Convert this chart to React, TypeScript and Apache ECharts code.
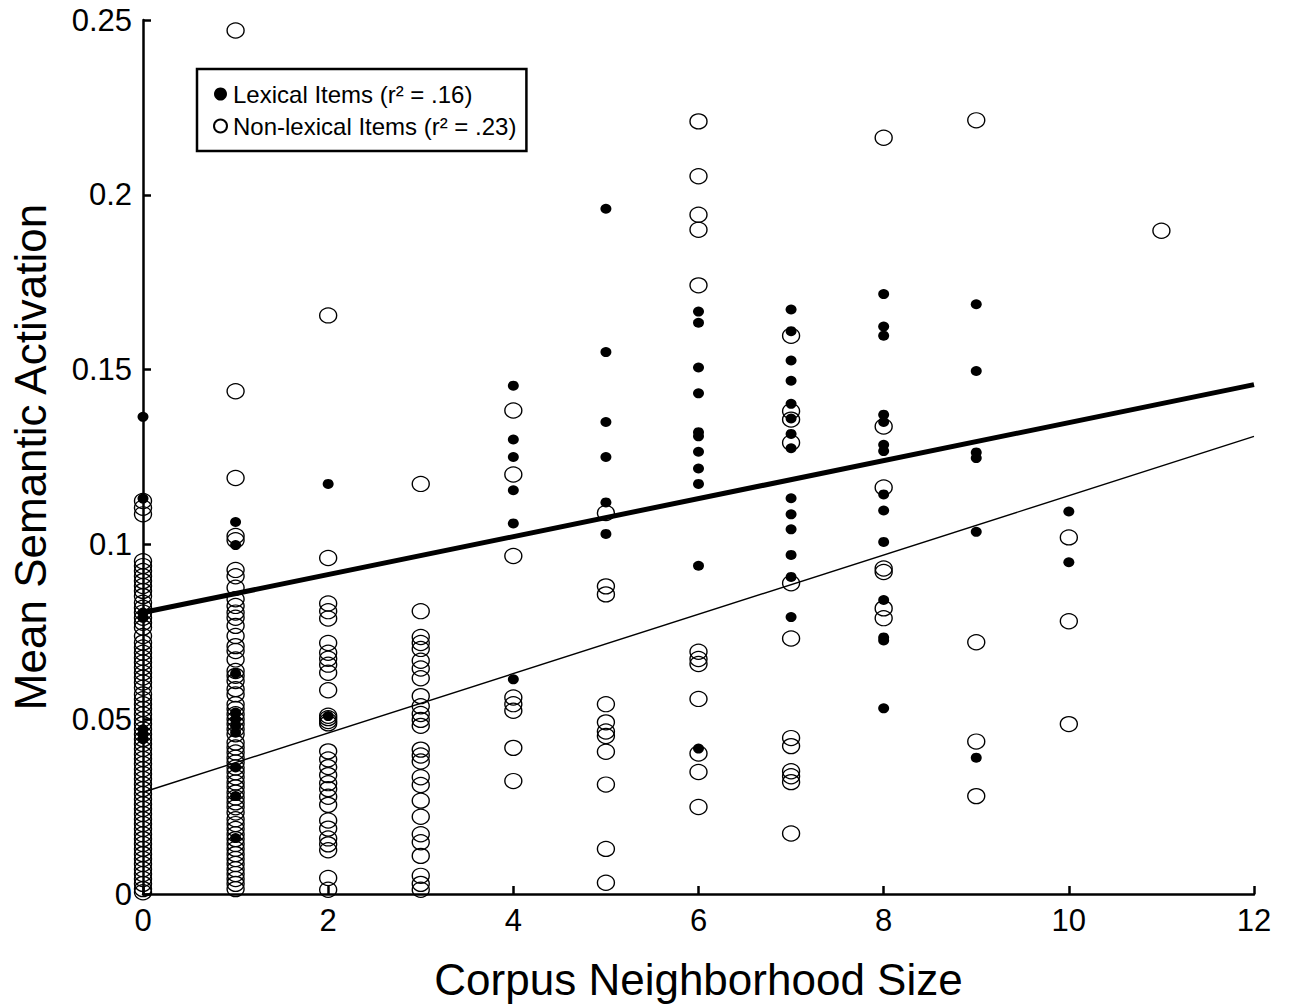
import React, { useEffect, useRef } from "react";
import * as echarts from "echarts";

// Lexical items (filled dots): values per corpus neighborhood size
const lexX0 = [0.1365, 0.1131, 0.0805, 0.079, 0.0471, 0.0457, 0.0443];
const lexX1 = [0.1064, 0.0998, 0.0631, 0.0519, 0.05, 0.0481, 0.0462, 0.0362, 0.028, 0.016];
const lexX2 = [0.1173, 0.0509];
const lexX4 = [0.1454, 0.13, 0.125, 0.1155, 0.106, 0.0614];
const lexX5 = [0.196, 0.155, 0.135, 0.125, 0.112, 0.103];
const lexX6 = [0.1666, 0.1634, 0.1506, 0.1432, 0.1321, 0.1309, 0.1265, 0.1217, 0.1173, 0.0939, 0.0416];
const lexX7 = [0.1672, 0.161, 0.1526, 0.1468, 0.1402, 0.136, 0.1316, 0.1275, 0.1132, 0.1086, 0.1043, 0.097, 0.0907, 0.0792];
const lexX8 = [0.1716, 0.1623, 0.1597, 0.1371, 0.135, 0.1285, 0.1267, 0.1143, 0.1097, 0.1007, 0.0841, 0.0734, 0.0725, 0.0531];
const lexX9 = [0.1687, 0.1496, 0.1263, 0.1247, 0.1036, 0.039];
const lexX10 = [0.1094, 0.0949];

// Non-lexical items (open circles)
const nonX0 = [
  0.1124, 0.1105, 0.1086, 0.0952, 0.0938, 0.0924, 0.0909, 0.0895, 0.0881, 0.0867, 0.0852,
  0.0833, 0.0819, 0.0805, 0.079, 0.0776, 0.0762, 0.0738, 0.0719, 0.0705, 0.069, 0.0676,
  0.0662, 0.0648, 0.0633, 0.0619, 0.0605, 0.059, 0.0571, 0.0557, 0.0543, 0.0529, 0.0514,
  0.05, 0.0486, 0.0471, 0.0457, 0.0443, 0.0429, 0.0415, 0.04, 0.0386, 0.0372, 0.0357,
  0.0343, 0.0329, 0.0314, 0.03, 0.0286, 0.0271, 0.0257, 0.0243, 0.0229, 0.0214, 0.02,
  0.0186, 0.0171, 0.0157, 0.0143, 0.0129, 0.0114, 0.01, 0.0086, 0.0071, 0.0057, 0.0043,
  0.0029, 0.0014, 0.0005,
];
const nonX1 = [
  0.247, 0.1438, 0.119, 0.1024, 0.1012, 0.0927, 0.0909, 0.0876, 0.0843, 0.0824, 0.0805,
  0.079, 0.0767, 0.0738, 0.0709, 0.0695, 0.0671, 0.0638, 0.0624, 0.0609, 0.0586, 0.0571,
  0.0543, 0.0529, 0.0514, 0.05, 0.0486, 0.0471, 0.0457, 0.0433, 0.0419, 0.0405, 0.039,
  0.0376, 0.0362, 0.0348, 0.0334, 0.0319, 0.0305, 0.029, 0.0276, 0.0262, 0.0248, 0.0233,
  0.0214, 0.02, 0.0186, 0.0171, 0.0157, 0.0143, 0.0129, 0.0114, 0.01, 0.0086, 0.0071,
  0.0057, 0.0043, 0.0029, 0.0014,
];
const nonX2 = [
  0.1655, 0.0961, 0.0831, 0.0809, 0.0788, 0.0718, 0.069, 0.0673, 0.0656, 0.0633, 0.0583,
  0.051, 0.0503, 0.0495, 0.0488, 0.0408, 0.0385, 0.0363, 0.034, 0.0317, 0.03, 0.0278,
  0.0255, 0.021, 0.0187, 0.0159, 0.0142, 0.0125, 0.0046, 0.0012,
];
const nonX3 = [
  0.1173, 0.0809, 0.0735, 0.0718, 0.0701, 0.0667, 0.0645, 0.0617, 0.0566, 0.0537, 0.0515,
  0.0498, 0.0481, 0.0413, 0.0396, 0.0379, 0.0334, 0.0312, 0.0267, 0.0221, 0.0171, 0.0148,
  0.0109, 0.0052, 0.0029, 0.0012,
];
const nonX4 = [0.1383, 0.12, 0.0967, 0.0562, 0.0543, 0.0524, 0.0418, 0.0323];
const nonX5 = [0.109, 0.088, 0.0857, 0.0543, 0.0491, 0.0465, 0.0452, 0.0407, 0.0313, 0.0129, 0.0032];
const nonX6 = [0.221, 0.2053, 0.1943, 0.19, 0.1741, 0.0693, 0.0672, 0.0658, 0.0558, 0.0402, 0.0349, 0.0249];
const nonX7 = [0.1597, 0.1381, 0.1357, 0.1291, 0.0889, 0.0731, 0.0446, 0.0423, 0.0351, 0.0337, 0.032, 0.0173];
const nonX8 = [0.2163, 0.1337, 0.1163, 0.0931, 0.0921, 0.0817, 0.0789];
const nonX9 = [0.2213, 0.072, 0.0436, 0.028];
const nonX10 = [0.102, 0.078, 0.0486];
const nonX11 = [0.1897];

const lexicalByX: number[][] = [lexX0, lexX1, lexX2, [], lexX4, lexX5, lexX6, lexX7, lexX8, lexX9, lexX10, []];
const nonLexicalByX: number[][] = [nonX0, nonX1, nonX2, nonX3, nonX4, nonX5, nonX6, nonX7, nonX8, nonX9, nonX10, nonX11];

// Regression lines (endpoints)
const lexFitX = [0, 12];
const lexFitY = [0.0805, 0.1457];
const nonFitX = [0, 12];
const nonFitY = [0.0291, 0.1309];

const xTicks = [0, 12, 2];
const yTicks = [0, 0.25, 0.05];

const LEX_NAME = "Lexical Items (r\u00B2 = .16)";
const NON_NAME = "Non-lexical Items (r\u00B2 = .23)";

function toPoints(byX: number[][]): number[][] {
  const out: number[][] = [];
  byX.forEach((vals, x) => vals.forEach((v) => out.push([x, v])));
  return out;
}

export default function App() {
  const ref = useRef<HTMLDivElement>(null);
  useEffect(() => {
    if (!ref.current) return;
    const chart = echarts.init(ref.current, null, { renderer: "svg" });
    const font = "'Liberation Sans', Arial, Helvetica, sans-serif";
    chart.setOption({
      animation: false,
      backgroundColor: "#fff",
      textStyle: { fontFamily: font },
      grid: { left: 143, right: 37, top: 20, bottom: 110, containLabel: false },
      legend: {
        orient: "vertical",
        left: 197,
        top: 69,
        padding: [13, 10, 13, 16],
        itemGap: 8,
        itemWidth: 13,
        itemHeight: 13,
        borderColor: "#000",
        borderWidth: 2.5,
        backgroundColor: "#fff",
        textStyle: { fontSize: 24, color: "#000", fontFamily: font, padding: [0, 0, 0, 1] },
        data: [
          { name: LEX_NAME, icon: "circle", itemStyle: { color: "#000", borderWidth: 0, opacity: 1 } },
          {
            name: NON_NAME,
            icon: "circle",
            itemStyle: { color: "#fff", borderColor: "#000", borderWidth: 2, opacity: 1 },
          },
        ],
      },
      xAxis: {
        type: "value",
        min: xTicks[0],
        max: xTicks[1],
        interval: xTicks[2],
        name: "Corpus Neighborhood Size",
        nameLocation: "middle",
        nameGap: 63,
        nameTextStyle: { fontSize: 44, color: "#000", fontFamily: font },
        axisLine: { onZero: false, lineStyle: { color: "#000", width: 2.5 } },
        axisTick: { inside: true, length: 8, lineStyle: { color: "#000", width: 2.5 } },
        axisLabel: { fontSize: 31, color: "#000", margin: 11, fontFamily: font },
        splitLine: { show: false },
      },
      yAxis: {
        type: "value",
        min: yTicks[0],
        max: yTicks[1],
        interval: yTicks[2],
        name: "Mean Semantic Activation",
        nameLocation: "middle",
        nameGap: 91,
        nameRotate: 90,
        nameTextStyle: { fontSize: 44, color: "#000", fontFamily: font },
        axisLine: { onZero: false, lineStyle: { color: "#000", width: 2.5 } },
        axisTick: { inside: true, length: 8, lineStyle: { color: "#000", width: 2.5 } },
        axisLabel: { fontSize: 31, color: "#000", margin: 11, fontFamily: font },
        splitLine: { show: false },
      },
      series: [
        {
          name: NON_NAME,
          type: "scatter",
          data: toPoints(nonLexicalByX),
          symbol: "circle",
          symbolSize: [17, 15],
          itemStyle: { color: "rgba(0,0,0,0)", borderColor: "#000", borderWidth: 1.3, opacity: 1 },
          z: 2,
        },
        {
          name: LEX_NAME,
          type: "scatter",
          data: toPoints(lexicalByX),
          symbol: "circle",
          symbolSize: [11, 10],
          itemStyle: { color: "#000", opacity: 1 },
          z: 3,
        },
        {
          name: "lexFit",
          type: "line",
          data: lexFitX.map((x, i) => [x, lexFitY[i]]),
          showSymbol: false,
          symbol: "none",
          lineStyle: { color: "#000", width: 5 },
          z: 4,
        },
        {
          name: "nonFit",
          type: "line",
          data: nonFitX.map((x, i) => [x, nonFitY[i]]),
          showSymbol: false,
          symbol: "none",
          lineStyle: { color: "#000", width: 1.4 },
          z: 4,
        },
      ],
    });
    return () => chart.dispose();
  }, []);
  return (
    <div
      ref={ref}
      style={{ position: "fixed", left: 0, top: 0, width: 1291, height: 1006, background: "#fff" }}
    />
  );
}
